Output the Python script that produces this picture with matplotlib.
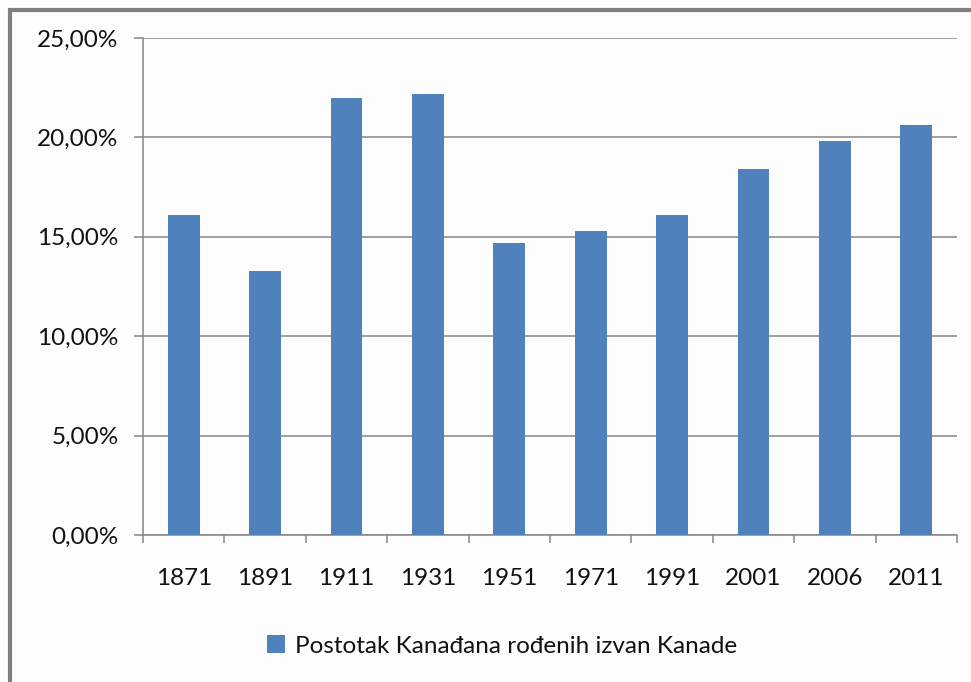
import matplotlib
matplotlib.use("Agg")
import matplotlib.pyplot as plt
from matplotlib.patches import Rectangle
from matplotlib.ticker import FixedLocator, FuncFormatter

years = ["1871", "1891", "1911", "1931", "1951", "1971", "1991", "2001", "2006", "2011"]
values = [16.1, 13.3, 22.0, 22.2, 14.7, 15.3, 16.1, 18.4, 19.8, 20.6]
series_name = "Postotak Kanađana rođenih izvan Kanade"
y_ticks = [0, 5, 10, 15, 20, 25]

W, H = 971, 682
fig = plt.figure(figsize=(W / 100, H / 100), dpi=100)
fig.patch.set_facecolor("#fdfdfd")
plt.rcParams["font.family"] = ["Lato", "DejaVu Sans"]

ax = fig.add_axes([143 / W, 1 - 535 / H, (957 - 143) / W, (535 - 38) / H])
ax.set_facecolor("#fdfdfd")
x = list(range(len(years)))
ax.bar(x, values, width=0.39, color="#4f81bd", zorder=3, label=series_name)
ax.set_xlim(-0.5, len(years) - 0.5)
ax.set_ylim(0, 25)
ax.set_yticks(y_ticks)
ax.yaxis.set_major_formatter(FuncFormatter(lambda v, p: f"{v:.2f}".replace(".", ",") + "%"))
ax.grid(axis="y", color="#868686", linewidth=1.1, zorder=0)
ax.set_xticks(x)
ax.set_xticklabels(years)
ax.xaxis.set_minor_locator(FixedLocator([i - 0.5 for i in range(len(years) + 1)]))
ax.tick_params(axis="x", which="major", length=0, pad=24, labelsize=17.5, labelcolor="#111111")
ax.tick_params(axis="x", which="minor", length=5.8, width=1.1, color="#868686")
ax.tick_params(axis="y", length=6.5, width=1.1, color="#868686", pad=11, labelsize=17.5, labelcolor="#111111")
for s in ["top", "right"]:
    ax.spines[s].set_visible(False)
for s in ["left", "bottom"]:
    ax.spines[s].set_color("#868686")
    ax.spines[s].set_linewidth(1.1)

leg = fig.legend(loc="center", bbox_to_anchor=(502 / W, 1 - 646 / H), frameon=False,
                 fontsize=17.5, handlelength=0.75, handleheight=0.75, handletextpad=0.4)
for t in leg.get_texts():
    t.set_color("#111111")

# outer chart frame (top and left visible)
fig.add_artist(Rectangle((9.5 / W, -0.1), 1.2, 1.1 - 9.5 / H, transform=fig.transFigure,
                         fill=False, edgecolor="#808080", linewidth=3))

fig.savefig("out.png", dpi=100, facecolor=fig.get_facecolor())
